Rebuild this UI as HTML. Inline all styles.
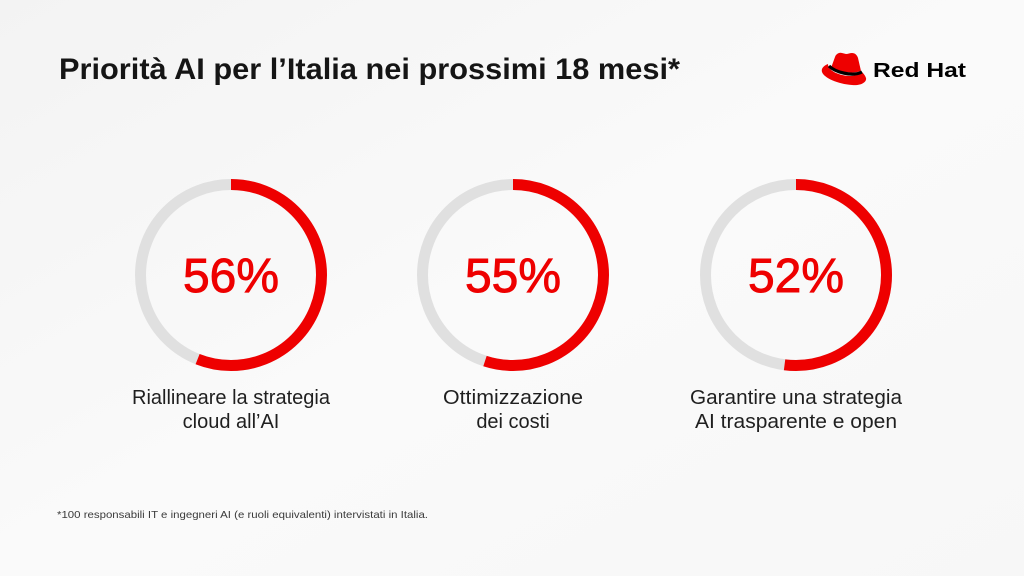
<!DOCTYPE html>
<html>
<head>
<meta charset="utf-8">
<style>
  html,body{margin:0;padding:0;}
  body{width:1024px;height:576px;overflow:hidden;}
  svg{display:block;}
  text{font-family:"Liberation Sans", Arial, sans-serif;}
</style>
</head>
<body>
<svg width="1024" height="576" viewBox="0 0 1024 576" xmlns="http://www.w3.org/2000/svg">
  <defs>
    <linearGradient id="bg" x1="0" y1="0" x2="1" y2="1">
      <stop offset="0" stop-color="#f3f3f3"/>
      <stop offset="0.5" stop-color="#fafafa"/>
      <stop offset="1" stop-color="#f7f7f7"/>
    </linearGradient>
  </defs>
  <rect x="0" y="0" width="1024" height="576" fill="url(#bg)"/>

  <!-- Title -->
  <text x="59" y="79" font-size="30" font-weight="bold" fill="#151515" textLength="621" lengthAdjust="spacingAndGlyphs">Priorità AI per l’Italia nei prossimi 18 mesi*</text>

  <!-- Logo -->
  <g>
    <path d="M828,64 C823,66 821,69 822,72 C824,78 838,84 852,85 C861,86 867,82 866,78 C865,75 863,73 861,71 C859,76 850,77 842,75 C834,73 828,69 828,64 Z" fill="#ee0000"/>
    <path d="M831,68 L835,57 C836,54 839,52 842,53 L846,54 C848,54 850,53 852,53 C855,53 857,55 858,58 L861,71 C853,74 838,72 831,68 Z" fill="#ee0000"/>
    <path d="M829,66 C835,72 852,77 862,72" fill="none" stroke="#000" stroke-width="3.2"/>
    <text x="873" y="77" font-size="20" font-weight="bold" fill="#000" textLength="93" lengthAdjust="spacingAndGlyphs">Red Hat</text>
  </g>

  <!-- Donut 1 -->
  <g transform="translate(231,275)">
    <circle r="90.5" fill="none" stroke="#e0e0e0" stroke-width="11"/>
    <circle r="90.5" fill="none" stroke="#ee0000" stroke-width="11" stroke-dasharray="318.4 1000" transform="rotate(-90)"/>
    <text x="0" y="17" font-size="48" text-anchor="middle" fill="#ee0000" stroke="#ee0000" stroke-width="0.9" textLength="96" lengthAdjust="spacingAndGlyphs">56%</text>
  </g>
  <text x="231" y="404" font-size="20" text-anchor="middle" fill="#1f1f1f" textLength="198" lengthAdjust="spacingAndGlyphs">Riallineare la strategia</text>
  <text x="231" y="428" font-size="20" text-anchor="middle" fill="#1f1f1f">cloud all’AI</text>

  <!-- Donut 2 -->
  <g transform="translate(513,275)">
    <circle r="90.5" fill="none" stroke="#e0e0e0" stroke-width="11"/>
    <circle r="90.5" fill="none" stroke="#ee0000" stroke-width="11" stroke-dasharray="312.7 1000" transform="rotate(-90)"/>
    <text x="0" y="17" font-size="48" text-anchor="middle" fill="#ee0000" stroke="#ee0000" stroke-width="0.9" textLength="96" lengthAdjust="spacingAndGlyphs">55%</text>
  </g>
  <text x="513" y="404" font-size="20" text-anchor="middle" fill="#1f1f1f" textLength="140" lengthAdjust="spacingAndGlyphs">Ottimizzazione</text>
  <text x="513" y="428" font-size="20" text-anchor="middle" fill="#1f1f1f">dei costi</text>

  <!-- Donut 3 -->
  <g transform="translate(796,275)">
    <circle r="90.5" fill="none" stroke="#e0e0e0" stroke-width="11"/>
    <circle r="90.5" fill="none" stroke="#ee0000" stroke-width="11" stroke-dasharray="295.7 1000" transform="rotate(-90)"/>
    <text x="0" y="17" font-size="48" text-anchor="middle" fill="#ee0000" stroke="#ee0000" stroke-width="0.9" textLength="96" lengthAdjust="spacingAndGlyphs">52%</text>
  </g>
  <text x="796" y="404" font-size="20" text-anchor="middle" fill="#1f1f1f" textLength="212" lengthAdjust="spacingAndGlyphs">Garantire una strategia</text>
  <text x="796" y="428" font-size="20" text-anchor="middle" fill="#1f1f1f" textLength="202" lengthAdjust="spacingAndGlyphs">AI trasparente e open</text>

  <!-- Footnote -->
  <text x="57" y="518" font-size="10.5" fill="#3a3a3a" textLength="371" lengthAdjust="spacingAndGlyphs">*100 responsabili IT e ingegneri AI (e ruoli equivalenti) intervistati in Italia.</text>
</svg>
</body>
</html>
